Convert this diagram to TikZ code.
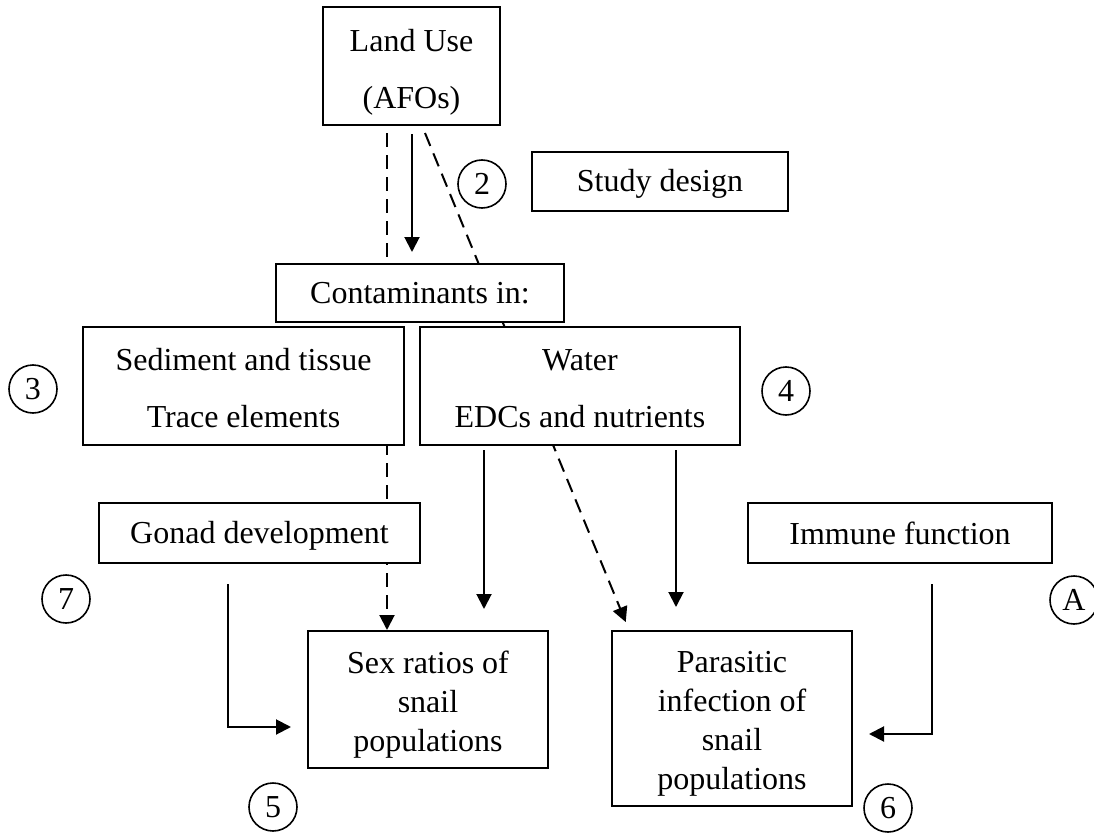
\documentclass[tikz,border=0pt]{standalone}
\usepackage{fontspec}
\setmainfont{Liberation Serif}
\usetikzlibrary{arrows.meta,backgrounds}
\newcommand\mydrop[1]{\rule{0pt}{#1}}
\begin{document}
\begin{tikzpicture}[x=0.5pt,y=-0.5pt,
  box/.style={draw, line width=1pt, fill=white, inner sep=0pt, align=center,
              font=\fontsize{16pt}{28.5pt}\selectfont},
  tight/.style={font=\fontsize{16pt}{19.5pt}\selectfont},
  num/.style={draw, circle, line width=0.8pt, minimum size=24pt, inner sep=0pt,
              font=\fontsize{16pt}{19pt}\selectfont},
  conn/.style={line width=1pt, -{Triangle[length=7.5pt,width=7.5pt]}},
  dconn/.style={conn, dash pattern=on 7pt off 4pt}
]
\useasboundingbox (0,0) rectangle (1094,835);

% boxes
\node[box, minimum width=88.5pt, minimum height=59pt] (land) at (411.5,66) {\mydrop{17.5pt}Land Use\\(AFOs)};
\node[box, minimum width=128pt, minimum height=29.5pt] (study) at (660,181.5) {\mydrop{13pt}Study design};
\node[box, minimum width=144pt, minimum height=29pt] (cont) at (420,293) {Contaminants in:};
\node[box, minimum width=160.5pt, minimum height=59pt] (sed) at (243.5,386) {\mydrop{13pt}Sediment and tissue\\Trace elements};
\node[box, minimum width=160pt, minimum height=59pt] (water) at (580,386) {\mydrop{13pt}Water\\EDCs and nutrients};
\node[box, minimum width=160.5pt, minimum height=30pt] (gonad) at (259.5,533) {\mydrop{14pt}Gonad development};
\node[box, minimum width=152pt, minimum height=30pt] (immune) at (900,533) {Immune function};
\node[box, tight, minimum width=120pt, minimum height=68.5pt] (sex) at (428,699.5) {\mydrop{16pt}Sex ratios of\\snail\\populations};
\node[box, tight, minimum width=120pt, minimum height=87.5pt] (para) at (732,718.5) {\mydrop{16pt}Parasitic\\infection of\\snail\\populations};

% numbered circles
\node[num] (n2) at (482,184) {2};
\node[num] (n3) at (33,389) {3};
\node[num] (n4) at (786,391) {4};
\node[num] (n7) at (66,599) {7};
\node[num] (nA) at (1074,600) {A};
\node[num] (n5) at (273,807) {5};
\node[num] (n6) at (888,808) {6};

% helper coordinates
\coordinate (d1s) at (387,133);
\coordinate (d2s) at (425,133);
\coordinate (d2e) at (629,0);
\coordinate (s1) at (412,0);
\coordinate (w1) at (484,0);
\coordinate (w2) at (676,0);
\coordinate (g1) at (228,0);
\coordinate (g2) at (0,727);
\coordinate (i1) at (932,0);
\coordinate (i2) at (0,734);

% dashed connectors behind boxes
\begin{scope}[on background layer]
  \draw[dconn] (d1s) -- (sex.north -| d1s);
  \draw[dconn, shorten >=4.3pt] (d2s) -- (para.north -| d2e);
\end{scope}

% solid connectors
\draw[conn, shorten <=4pt, shorten >=5.5pt] (land.south -| s1) -- (cont.north -| s1);
\draw[conn, shorten <=2pt, shorten >=10.5pt] (water.south -| w1) -- (sex.north -| w1);
\draw[conn, shorten <=2pt, shorten >=11.5pt] (water.south -| w2) -- (para.north -| w2);
\draw[conn, shorten <=10pt, shorten >=8pt] (gonad.south -| g1) |- (sex.west |- g2);
\draw[conn, shorten <=10pt, shorten >=8pt] (immune.south -| i1) |- (para.east |- i2);
\end{tikzpicture}
\end{document}
